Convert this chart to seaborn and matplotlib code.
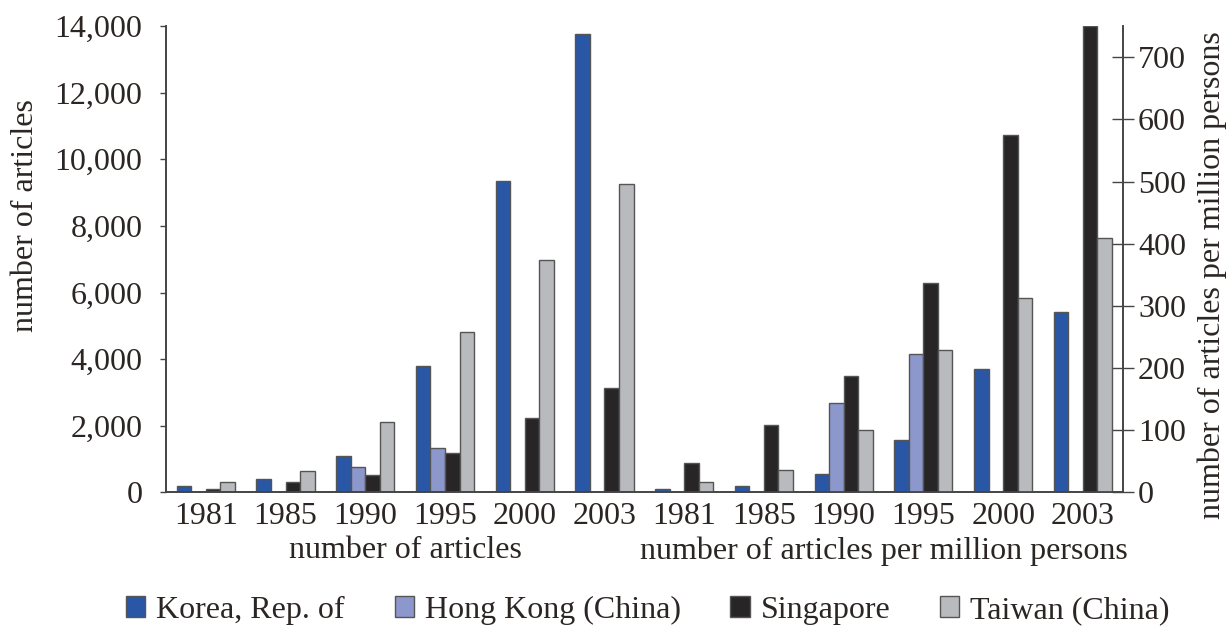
import numpy as np
import pandas as pd
import seaborn as sns
import matplotlib.pyplot as plt
from matplotlib.patches import Patch
from matplotlib.ticker import FuncFormatter

# data
years = ["1981", "1985", "1990", "1995", "2000", "2003"]
countries = ["Korea, Rep. of", "Hong Kong (China)", "Singapore", "Taiwan (China)"]
colors = ["#2a56a6", "#8c98cc", "#282526", "#b9babe"]

# number of articles (left axis)
korea_articles = [200, 400, 1090, 3790, 9350, 13770]
hk_articles = [np.nan, np.nan, 760, 1330, np.nan, np.nan]
sing_articles = [90, 300, 520, 1190, 2240, 3130]
taiwan_articles = [300, 650, 2110, 4820, 6970, 9250]

# number of articles per million persons (right axis)
korea_pm = [6, 11, 29, 84, 198, 290]
hk_pm = [np.nan, np.nan, 144, 223, np.nan, np.nan]
sing_pm = [48, 109, 187, 337, 574, 750]
taiwan_pm = [17, 36, 101, 229, 313, 409]

keys_a = ["a" + y for y in years]
keys_p = ["p" + y for y in years]
order = keys_a + keys_p


def long_df(keys, series):
    rows = []
    for country, vals in zip(countries, series):
        for k, v in zip(keys, vals):
            rows.append({"group": k, "country": country, "value": v})
    return pd.DataFrame(rows)


df_a = long_df(keys_a, [korea_articles, hk_articles, sing_articles, taiwan_articles])
df_p = long_df(keys_p, [korea_pm, hk_pm, sing_pm, taiwan_pm])

sns.set_style("white")
plt.rcParams["font.family"] = ["Liberation Serif", "DejaVu Serif"]
txt = "#2b2523"
fs = 23

fig = plt.figure(figsize=(12.32, 6.33), dpi=100)
ax = fig.add_axes([0.1347, 0.222, 0.7766, 0.7369])
ax2 = ax.twinx()

bar_kw = dict(x="group", y="value", hue="country", order=order, hue_order=countries,
              palette=colors, width=0.73, saturation=1, errorbar=None,
              edgecolor="#555555", linewidth=1, legend=False)
sns.barplot(data=df_a, ax=ax, **bar_kw)
sns.barplot(data=df_p, ax=ax2, **bar_kw)

ax.set_xlim(-0.5, 11.5)
ax.set_ylim(0, 14000)
ax2.set_ylim(0, 750)

ax.set_xticks(np.arange(-0.5, 12, 1))
ax.set_xticklabels([])
ax.set_xticks(np.arange(12), minor=True)
ax.set_xticklabels(years + years, minor=True, fontsize=fs, color=txt)
ax.tick_params(axis="x", which="major", direction="out", length=4, width=1, color="#444")
ax.tick_params(axis="x", which="minor", length=0, pad=7)

ax.set_yticks(np.arange(0, 14001, 2000))
ax.yaxis.set_major_formatter(FuncFormatter(lambda v, p: f"{int(v):,}"))
ax.tick_params(axis="y", direction="out", length=4, width=1, color="#444",
               labelsize=fs, labelcolor=txt, pad=13)
ax2.set_yticks(np.arange(0, 701, 100))
ax2.tick_params(axis="y", direction="inout", length=16, width=1, color="#444",
                labelsize=fs, labelcolor=txt, pad=3)

ax.set_xlabel("")
ax2.set_xlabel("")
ax.set_ylabel("number of articles", fontsize=fs, color=txt)
ax.yaxis.set_label_coords(-0.132, 0.594)
ax2.set_ylabel("number of articles per million persons", fontsize=fs, color=txt)
ax2.yaxis.set_label_coords(1.078, 0.466)

for a in (ax, ax2):
    a.spines["top"].set_visible(False)
    for s in ("left", "right", "bottom"):
        a.spines[s].set_color("#444")
        a.spines[s].set_linewidth(1.2)

ax.text(0.25, -0.125, "number of articles", transform=ax.transAxes,
        ha="center", va="center", fontsize=fs, color=txt)
ax.text(0.75, -0.125, "number of articles per million persons", transform=ax.transAxes,
        ha="center", va="center", fontsize=fs, color=txt)

handles = [Patch(facecolor=c, edgecolor="#555555", linewidth=1) for c in colors]
fig.legend(handles, countries, loc="center", bbox_to_anchor=(0.526, 0.036), ncol=4,
           frameon=False, fontsize=fs, handlelength=0.6, handleheight=0.6,
           handletextpad=0.35, columnspacing=1.55, labelcolor=txt)

fig.savefig("out.png", dpi=100)
